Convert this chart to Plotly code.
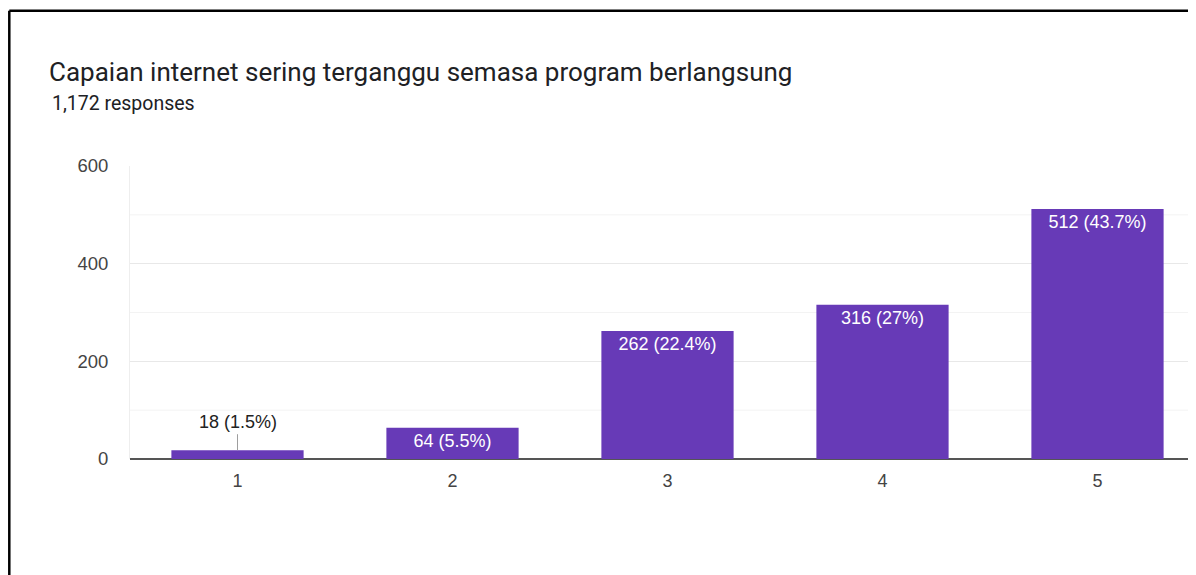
import plotly.graph_objects as go

categories = [1, 2, 3, 4, 5]
counts = [18, 64, 262, 316, 512]
total_responses = 1172
title_text = "Capaian internet sering terganggu semasa program berlangsung"
subtitle_text = "1,172 responses"
y_ticks = [0, 200, 400, 600]
minor_ticks = [100, 300, 500]

# page body has an 8px margin, so the figure sits at (8, 8) in the window
OFF = 8
W, H = 1196 - OFF, 575 - OFF
ML, MR, MT, MB = 130 - OFF, 0, 166 - OFF, 575 - 459
PW = W - ML - MR
PH = H - MT - MB
CAT_PX = 215.0

def fmt_pct(c):
    p = round(c / total_responses * 100, 1)
    s = f"{p:.1f}"
    if s.endswith(".0"):
        s = s[:-2]
    return f"{c} ({s}%)"

labels = [fmt_pct(c) for c in counts]
inside_text = [lab if c > 40 else "" for lab, c in zip(labels, counts)]

PURPLE = "#673ab7"
TITLE_FONT = "Roboto"
CHART_FONT = "Liberation Sans"

fig = go.Figure()
fig.add_trace(go.Bar(
    x=categories, y=counts, width=0.615,
    marker=dict(color=PURPLE, line=dict(width=0)),
    text=inside_text, textposition="inside", insidetextanchor="end",
    constraintext="none", cliponaxis=False,
    textfont=dict(family=CHART_FONT, size=18, color="white"),
    hoverinfo="skip",
))

annotations = []
for x, c, lab in zip(categories, counts, labels):
    if c <= 40:
        annotations.append(dict(
            x=x, y=c, xref="x", yref="y", text=lab, showarrow=True,
            arrowhead=0, arrowwidth=1, arrowcolor="#9e9e9e",
            ax=0, ay=-16, yanchor="bottom",
            font=dict(family=CHART_FONT, size=18, color="#222"),
        ))

annotations.append(dict(
    x=(50 - OFF - ML) / PW, y=(H - MB - (104 - OFF)) / PH, xref="paper", yref="paper",
    text=subtitle_text, showarrow=False, xanchor="left", yanchor="middle",
    font=dict(family=TITLE_FONT, size=19.5, color="#202124"),
))

shapes = []
for v in minor_ticks:
    shapes.append(dict(type="line", xref="paper", yref="y", x0=0, x1=1, y0=v, y1=v,
                       line=dict(color="#f3f3f3", width=1), layer="below"))
# frame border (top + left)
bx = (1.3 - ML) / PW
by = (H - MB - 2.7) / PH
shapes.append(dict(type="line", xref="paper", yref="paper",
                   x0=bx, x1=(W + 5 - ML) / PW, y0=by, y1=by,
                   line=dict(color="black", width=2.5)))
shapes.append(dict(type="line", xref="paper", yref="paper",
                   x0=bx, x1=bx, y0=by, y1=(H - MB - H - 5) / PH,
                   line=dict(color="black", width=2.5)))

fig.update_layout(
    width=W, height=H,
    margin=dict(l=ML, r=MR, t=MT, b=MB, autoexpand=False),
    paper_bgcolor="white", plot_bgcolor="white",
    showlegend=False,
    title=dict(text=title_text, x=(49 - OFF) / W, xref="container", xanchor="left",
               y=1 - (72 - OFF) / H, yref="container", yanchor="middle",
               font=dict(family=TITLE_FONT, size=26, color="#202124")),
    xaxis=dict(range=[0.5, 0.5 + PW / CAT_PX], tickvals=categories,
               ticktext=[str(c) for c in categories], showgrid=False,
               zeroline=False, showline=False, ticks="",
               ticklabelstandoff=9,
               tickfont=dict(family=CHART_FONT, size=18, color="#444")),
    yaxis=dict(range=[0, 600], tickvals=y_ticks, showgrid=True,
               gridcolor="#e8e8e8", gridwidth=1, zeroline=True,
               zerolinecolor="#555", zerolinewidth=2,
               showline=True, linecolor="#eeeeee", linewidth=1,
               ticks="", ticklabelstandoff=17,
               tickfont=dict(family=CHART_FONT, size=18.5, color="#444")),
    annotations=annotations, shapes=shapes,
)

fig.write_html("out.html")
